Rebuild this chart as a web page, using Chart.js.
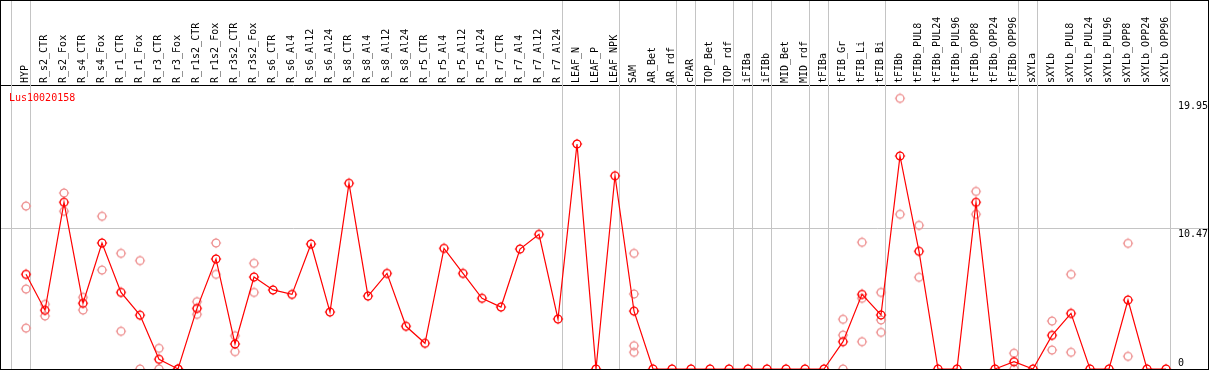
<!DOCTYPE html>
<html>
<head>
<meta charset="utf-8">
<script src="https://cdn.jsdelivr.net/npm/chart.js@4/dist/chart.umd.min.js"></script>
<style>
  html, body { margin: 0; padding: 0; background: #fff; }
  #wrap { width: 1209px; height: 370px; }
</style>
</head>
<body>
<div id="wrap"><canvas id="chart"></canvas></div>
<script>
var geneName = 'Lus10020158'

var categories = ['HYP', 'R_s2_CTR', 'R_s2_Fox', 'R_s4_CTR', 'R_s4_Fox', 'R_r1_CTR', 'R_r1_Fox',
  'R_r3_CTR', 'R_r3_Fox', 'R_r1s2_CTR', 'R_r1s2_Fox', 'R_r3s2_CTR', 'R_r3s2_Fox',
  'R_s6_CTR', 'R_s6_Al4', 'R_s6_Al12', 'R_s6_Al24', 'R_s8_CTR', 'R_s8_Al4', 'R_s8_Al12', 'R_s8_Al24',
  'R_r5_CTR', 'R_r5_Al4', 'R_r5_Al12', 'R_r5_Al24', 'R_r7_CTR', 'R_r7_Al4', 'R_r7_Al12', 'R_r7_Al24',
  'LEAF_N', 'LEAF_P', 'LEAF_NPK', 'SAM', 'AR_Bet', 'AR_rdf', 'cPAR', 'TOP_Bet', 'TOP_rdf',
  'iFIBa', 'iFIBb', 'MID_Bet', 'MID_rdf', 'tFIBa', 'tFIB_Gr', 'tFIB_Li', 'tFIB_Bi',
  'tFIBb', 'tFIBb_PUL8', 'tFIBb_PUL24', 'tFIBb_PUL96', 'tFIBb_OPP8', 'tFIBb_OPP24', 'tFIBb_OPP96',
  'sXYLa', 'sXYLb', 'sXYLb_PUL8', 'sXYLb_PUL24', 'sXYLb_PUL96', 'sXYLb_OPP8', 'sXYLb_OPP24', 'sXYLb_OPP96']

// mean expression per sample
var means = [7.03, 4.36, 12.38, 4.88, 9.36, 5.69, 4.0, 0.72, 0, 4.5, 8.17, 1.86, 6.83,
  5.87, 5.54, 9.28, 4.23, 13.79, 5.42, 7.1, 3.17, 1.91, 8.96, 7.1, 5.25, 4.6, 8.91, 10.0, 3.71,
  16.71, 0, 14.35, 4.3, 0, 0, 0, 0, 0, 0, 0, 0, 0, 0, 2.03, 5.54, 4.01,
  15.82, 8.74, 0, 0, 12.38, 0, 0.54, 0, 2.5, 4.13, 0, 0, 5.12, 0, 0]

// replicates (null = no replicate)
var repA = [12.1, 4.8, 13.07, 5.32, 11.34, 8.59, 8.05, 1.54, 0, 5.0, 9.36, 2.47, 7.85,
  null, null, null, null, null, null, null, null, null, null, null, null, null, null, null, null,
  null, null, null, 8.59, null, null, null, null, null, null, null, null, null, null, 3.69, 9.41, 5.69,
  20.1, 10.67, null, null, 13.19, null, 1.17, null, 3.56, 7.03, null, null, 9.33, null, null]
var repB = [5.94, 3.94, 11.71, 4.38, 7.35, 2.8, 0, 0, 0, 4.06, 7.03, 1.29, 5.69,
  null, null, null, null, null, null, null, null, null, null, null, null, null, null, null, null,
  null, null, null, 5.57, null, null, null, null, null, null, null, null, null, null, 2.52, 5.25, 3.64,
  11.49, 6.81, null, null, 11.49, null, 0, null, 1.41, 1.24, null, null, 0.94, null, null]
var repC = [3.04, null, null, null, null, null, null, null, null, null, null, null, null,
  null, null, null, null, null, null, null, null, null, null, null, null, null, null, null, null,
  null, null, null, 1.73, null, null, null, null, null, null, null, null, null, null, 0, 2.03, 2.72,
  null, null, null, null, null, null, null, null, null, null, null, null, null, null, null]
var repD = [null, null, null, null, null, null, null, null, null, null, null, null, null,
  null, null, null, null, null, null, null, null, null, null, null, null, null, null, null, null,
  null, null, null, 1.24, null, null, null, null, null, null, null, null, null, null, null, null, null,
  null, null, null, null, null, null, null, null, null, null, null, null, null, null, null]

var yTicks = [0, 10.47, 19.95]
// index of the last sample in each group (-1 = left edge)
var groupEnds = [-1, 0, 28, 31, 34, 35, 37, 38, 39, 41, 42, 45, 52, 53, 60]

var monoFont = 'DejaVu Sans Mono'

// open circle with four small ticks
function makeMarker(color){
  var c = document.createElement('canvas')
  c.width = 12; c.height = 12
  var g = c.getContext('2d')
  g.strokeStyle = color
  g.lineWidth = 1.3
  g.beginPath(); g.arc(6, 6, 3.9, 0, Math.PI * 2); g.stroke()
  g.lineWidth = 1
  g.beginPath()
  g.moveTo(6, 0.8); g.lineTo(6, 2)
  g.moveTo(6, 10); g.lineTo(6, 11.2)
  g.moveTo(0.8, 6); g.lineTo(2, 6)
  g.moveTo(10, 6); g.lineTo(11.2, 6)
  g.stroke()
  return c
}

function toPoints(arr){
  var out = []
  arr.forEach(function(v, i){ if (v !== null) out.push({x: i, y: v}) })
  return out
}

var redMark = makeMarker('#ff0000')
var pinkMark = makeMarker('rgb(238,145,145)')

var decor = {
  id: 'decor',
  beforeDatasetsDraw: function(chart){
    var ctx = chart.ctx, xs = chart.scales.x
    ctx.save()
    ctx.strokeStyle = '#c4c4c4'
    ctx.lineWidth = 1
    ctx.beginPath()
    groupEnds.forEach(function(i){
      var px = Math.floor(xs.getPixelForValue(i + 0.25)) + 0.5
      ctx.moveTo(px, 0); ctx.lineTo(px, chart.height)
    })
    ctx.stroke()
    ctx.restore()
  },
  afterDraw: function(chart){
    var ctx = chart.ctx, ys = chart.scales.y, area = chart.chartArea
    ctx.save()
    ctx.font = '10px "' + monoFont + '"'
    ctx.textBaseline = 'alphabetic'
    ctx.textAlign = 'left'
    ctx.fillStyle = '#000'
    yTicks.forEach(function(v){
      var py = Math.min(ys.getPixelForValue(v) + 9, area.bottom - 3)
      ctx.fillText(String(v), area.right + 8, py)
    })
    ctx.fillStyle = '#ff0000'
    ctx.fillText(geneName, 9, area.top + 16)
    ctx.strokeStyle = '#000'
    ctx.lineWidth = 1
    ctx.strokeRect(0.5, 0.5, chart.width - 1, chart.height - 1)
    ctx.restore()
  }
}

var repStyle = {
  type: 'scatter',
  pointStyle: pinkMark,
  showLine: false
}

new Chart(document.getElementById('chart'), {
  type: 'line',
  data: {
    datasets: [
      {
        label: geneName,
        data: toPoints(means),
        borderColor: '#ff0000',
        borderWidth: 1.2,
        pointStyle: redMark,
        tension: 0,
        clip: false
      },
      Object.assign({label: 'rep1', data: toPoints(repA)}, repStyle),
      Object.assign({label: 'rep2', data: toPoints(repB)}, repStyle),
      Object.assign({label: 'rep3', data: toPoints(repC)}, repStyle),
      Object.assign({label: 'rep4', data: toPoints(repD)}, repStyle)
    ]
  },
  options: {
    responsive: true,
    maintainAspectRatio: false,
    animation: false,
    events: [],
    layout: { autoPadding: false, padding: { left: 1, right: 0, top: 0, bottom: 1 } },
    plugins: { legend: { display: false }, tooltip: { enabled: false } },
    scales: {
      x: {
        type: 'linear',
        position: 'top',
        bounds: 'data',
        min: -25 / 19,
        max: 1144 / 19,
        afterBuildTicks: function(s){ s.ticks = categories.map(function(c, i){ return {value: i} }) },
        afterFit: function(s){ s.height = 85; s.paddingLeft = 0; s.paddingRight = 0 },
        grid: { display: false, drawTicks: false },
        border: { display: true, color: '#000', width: 1 },
        ticks: {
          autoSkip: false,
          minRotation: 90,
          maxRotation: 90,
          padding: 2,
          labelOffset: 11,
          color: '#000',
          font: { family: monoFont, size: 10 },
          callback: function(v){ return categories[v] }
        }
      },
      y: {
        type: 'linear',
        position: 'right',
        min: 0,
        max: 21.09,
        afterBuildTicks: function(s){ s.ticks = yTicks.map(function(v){ return {value: v} }) },
        afterFit: function(s){ s.width = 39; s.paddingTop = 0; s.paddingBottom = 0 },
        border: { display: false },
        grid: {
          color: function(c){ return c.tick && c.tick.value === yTicks[1] ? '#c4c4c4' : 'rgba(0,0,0,0)' },
          drawTicks: true,
          tickLength: 39
        },
        ticks: { display: false }
      }
    }
  },
  plugins: [decor]
})
</script>
</body>
</html>
